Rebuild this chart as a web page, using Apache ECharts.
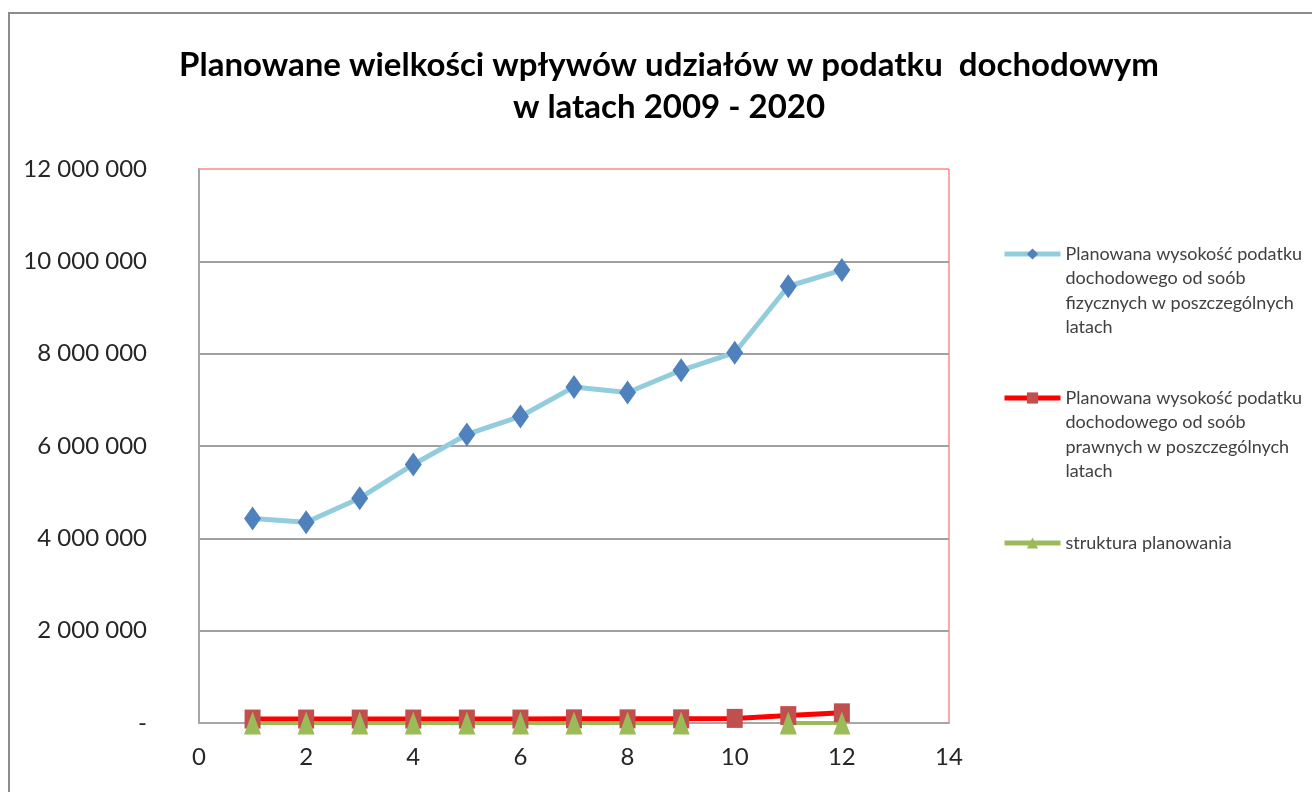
<!DOCTYPE html>
<html>
<head>
<meta charset="utf-8">
<script src="https://cdn.jsdelivr.net/npm/echarts@6/dist/echarts.min.js"></script>
<style>
  html, body { margin: 0; padding: 0; background: #fff; }
  #main { width: 1312px; height: 792px; }
</style>
</head>
<body>
<div id="main"></div>
<script>
// lata 2009-2020 jako kolejne numery 1..12
var periods = [1, 2, 3, 4, 5, 6, 7, 8, 9, 10, 11, 12];
var fizyczne = [4430000, 4350000, 4870000, 5600000, 6250000, 6640000, 7280000, 7160000, 7640000, 8020000, 9460000, 9810000];
var prawne = [85000, 85000, 85000, 85000, 85000, 85000, 90000, 90000, 90000, 100000, 160000, 220000];
var struktura = [0, 0, 0, 0, 0, 0, 0, 0, 0, null, 0, 0];

var names = [
  "Planowana wysokość podatku\ndochodowego od soób\nfizycznych w poszczególnych\nlatach",
  "Planowana wysokość podatku\ndochodowego od soób\nprawnych w poszczególnych\nlatach",
  "struktura planowania"
];

function pairs(vals) {
  return periods.map(function (p, i) { return [p, vals[i]]; });
}

function fmtY(v) {
  if (v === 0) return "-";
  return String(v).replace(/\B(?=(\d{3})+(?!\d))/g, " ");
}

var font = "Lato, 'Open Sans', sans-serif";
var LH = 24.5;

// ikona legendy ma stac przy pierwszej linii tekstu, wiec dokladamy puste linie z przodu
function legendFor(name, iconY, lines) {
  var pad = "";
  for (var i = 1; i < lines; i++) pad += "\n";
  var total = 2 * lines - 1;
  return {
    data: [name],
    left: 1002,
    top: iconY - total * LH / 2,
    padding: 0,
    orient: "vertical",
    itemWidth: 56,
    itemHeight: 14,
    selectedMode: false,
    lineStyle: { width: 5 },
    formatter: function (n) { return pad + n; },
    textStyle: {
      fontFamily: font,
      fontSize: 18,
      color: "#404040",
      lineHeight: LH
    }
  };
}

var myChart = echarts.init(document.getElementById("main"));
var option = {
  backgroundColor: "#fff",
  animation: false,
  title: {
    text: "Planowane wielkości wpływów udziałów w podatku  dochodowym\nw latach 2009 - 2020",
    left: 664,
    top: 39,
    textAlign: "center",
    textStyle: {
      fontFamily: font,
      fontWeight: "bold",
      fontSize: 33,
      color: "#000",
      lineHeight: 42
    }
  },
  graphic: [
    {
      type: "rect",
      shape: { x: 9, y: 13, width: 1330, height: 800 },
      style: { fill: null, stroke: "#8c8c8c", lineWidth: 2 },
      silent: true
    }
  ],
  legend: [
    legendFor(names[0], 254, 4),
    legendFor(names[1], 398, 4),
    legendFor(names[2], 543, 1)
  ],
  grid: {
    left: 199,
    top: 169,
    right: 363,
    bottom: 69,
    show: true,
    borderColor: "#ff4d4d",
    borderWidth: 1,
    backgroundColor: "#fff"
  },
  xAxis: {
    type: "value",
    min: 0,
    max: 14,
    interval: 2,
    axisLine: { show: true, lineStyle: { color: "#a6a6a6", width: 2 } },
    axisTick: { show: false },
    splitLine: { show: false },
    axisLabel: { fontFamily: font, fontSize: 24, color: "#262626", margin: 22 }
  },
  yAxis: {
    type: "value",
    min: 0,
    max: 12000000,
    interval: 2000000,
    axisLine: { show: true, lineStyle: { color: "#a6a6a6", width: 2 } },
    axisTick: { show: false },
    splitLine: {
      show: true,
      showMaxLine: false,
      showMinLine: false,
      lineStyle: { color: "#a0a0a0", width: 2 }
    },
    axisLabel: {
      fontFamily: font,
      fontSize: 24,
      color: "#262626",
      margin: 52,
      formatter: fmtY
    }
  },
  series: [
    {
      name: names[0],
      type: "line",
      data: pairs(fizyczne),
      symbol: "diamond",
      symbolSize: [17, 24],
      lineStyle: { color: "#93cddd", width: 5 },
      itemStyle: { color: "#4f81bd" }
    },
    {
      name: names[1],
      type: "line",
      data: pairs(prawne),
      symbol: "rect",
      symbolSize: [16, 19],
      lineStyle: { color: "#ff0000", width: 5 },
      itemStyle: { color: "#c0504d" }
    },
    {
      name: names[2],
      type: "line",
      data: pairs(struktura),
      symbol: "triangle",
      symbolSize: [17, 23],
      connectNulls: false,
      lineStyle: { color: "#9bbb59", width: 4 },
      itemStyle: { color: "#9bbb59" }
    }
  ]
};
myChart.setOption(option);
</script>
</body>
</html>
